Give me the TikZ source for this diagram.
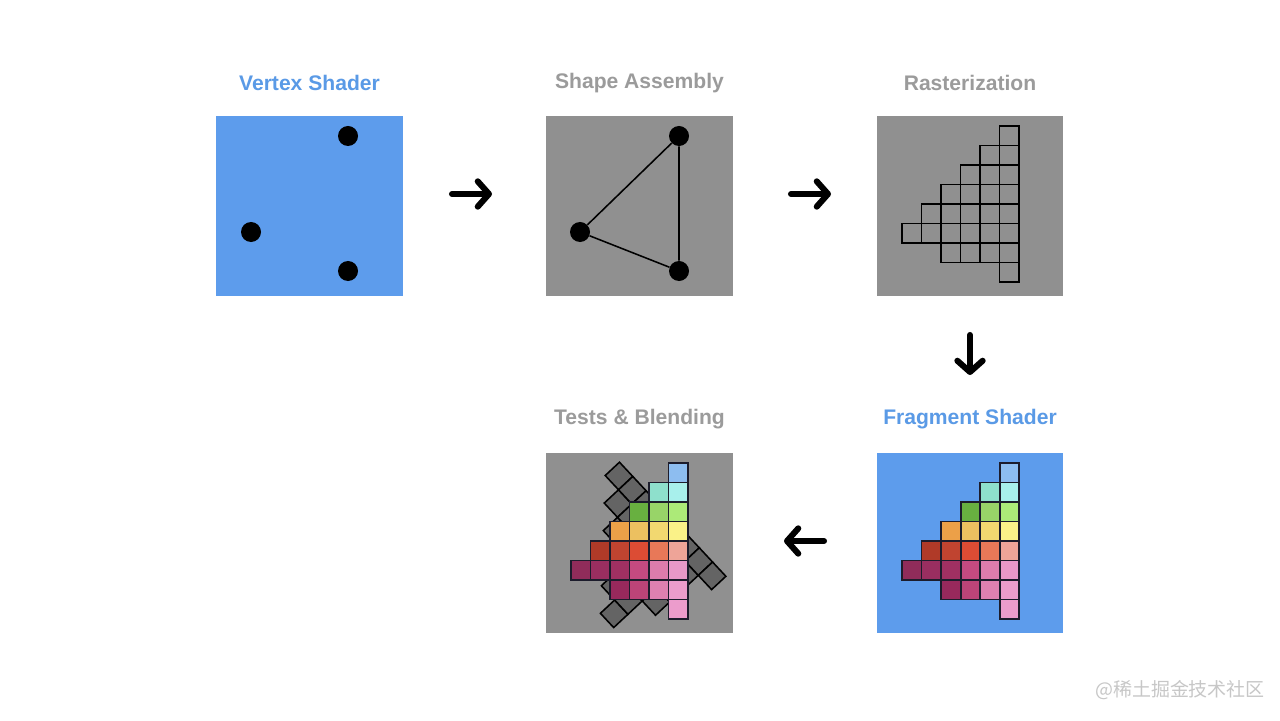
\documentclass[tikz,border=0pt]{standalone}
\usepackage{fontspec}
\setmainfont{Liberation Sans}
\newfontfamily\cjk{Noto Sans CJK SC}
\usetikzlibrary{arrows.meta,positioning}
\definecolor{pbl}{HTML}{5D9CEC}
\definecolor{pgr}{HTML}{909090}
\definecolor{tbl}{HTML}{5A9AE6}
\definecolor{tgr}{HTML}{9B9B9B}
\definecolor{dgr}{HTML}{646464}
\definecolor{edg}{HTML}{1C1C2C}
% fragment colours, k<row><col>
\definecolor{k05}{HTML}{8DBDF0}
\definecolor{k14}{HTML}{8EE0CC}\definecolor{k15}{HTML}{A8F0EC}
\definecolor{k23}{HTML}{68B040}\definecolor{k24}{HTML}{98D468}\definecolor{k25}{HTML}{ACEA78}
\definecolor{k32}{HTML}{ECA048}\definecolor{k33}{HTML}{ECC060}\definecolor{k34}{HTML}{F2D870}\definecolor{k35}{HTML}{FAF288}
\definecolor{k41}{HTML}{B03A28}\definecolor{k42}{HTML}{C04430}\definecolor{k43}{HTML}{DC4C34}\definecolor{k44}{HTML}{E87858}\definecolor{k45}{HTML}{EEA498}
\definecolor{k50}{HTML}{902C5A}\definecolor{k51}{HTML}{9A2E60}\definecolor{k52}{HTML}{A03062}\definecolor{k53}{HTML}{C44A80}\definecolor{k54}{HTML}{DC7CAC}\definecolor{k55}{HTML}{E898C8}
\definecolor{k62}{HTML}{98295C}\definecolor{k63}{HTML}{BC4478}\definecolor{k64}{HTML}{DE80B0}\definecolor{k65}{HTML}{EC9CCC}
\definecolor{k75}{HTML}{EC9CCC}
\tikzset{pan/.style={inner sep=0pt,minimum width=4.65cm,minimum height=4.5cm},
 bp/.style={pan,fill=pbl},gp/.style={pan,fill=pgr},
 ttl/.style={font=\fontsize{15pt}{18pt}\selectfont\bfseries},
 dot/.style={circle,fill=black,inner sep=0pt,minimum size=0.5cm},
 wire/.style={line width=1.1pt},
 gc/.style={draw=black,line width=1.1pt},
 fc/.style={draw=edg,line width=1.4pt,fill=k\r\c},
 dc/.style={draw=black,line width=1.1pt,fill=dgr},
 arr/.style={line width=4.3pt,line cap=round,-{Straight Barb[length=8pt,width=18pt,round]}},
 wm/.style={font=\cjk\fontsize{13.5pt}{16pt}\selectfont,text=black!22}}
\newcommand{\cells}[1]{\foreach \r/\f in {0/5,1/4,2/3,3/2,4/1,5/0,6/2,7/5}{%
 \foreach \c in {\f,...,5}{\draw[#1] ({\c*19.5},{-\r*19.5}) rectangle ++(19.5,-19.5);}}}

\begin{document}
\begin{tikzpicture}[x=0.025cm,y=0.025cm]
\useasboundingbox[fill=white] (0,0) rectangle (1280,-721);
% panels
\node[bp] (vs) at (309.5,-206) {};
\node[gp] (sa) at (639.5,-206) {};
\node[gp] (rs) at (970,-206) {};
\node[bp] (fs) at (970,-543) {};
\node[gp] (tb) at (639.5,-543) {};
\node[ttl,text=tbl] (tvs) at (309.5,-83) {Vertex Shader};
\node[ttl,text=tgr] (tsa) at (639.5,-83) {Shape Assembly};
\node[ttl,text=tgr] (trs) at (970,-83) {Rasterization};
\node[ttl,text=tbl] (tfs) at (970,-419) {Fragment Shader};
\node[ttl,text=tgr] (ttb) at (639.5,-419) {Tests \& Blending};
% vertices
\node[dot] (v1) at (348,-136) {};
\node[dot] (v2) at (251,-232) {};
\node[dot] (v3) at (348,-271) {};
\node[dot] (s1) at (679,-136) {};
\node[dot] (s2) at (580,-232) {};
\node[dot] (s3) at (679,-271) {};
\draw[wire] (s1)--(s2)--(s3)--(s1);
% fragments
\begin{scope}[shift={(902,-126)}]\cells{gc}\end{scope}
\begin{scope}[shift={(902,-463)}]\cells{fc}\end{scope}
\begin{scope}[shift={(533.9,-542)},rotate=43]\cells{dc}\end{scope}
\begin{scope}[shift={(571,-463)}]\cells{fc}\end{scope}
% arrows
\coordinate (a1s) at (452,-194);\coordinate (a1e) at (492,-194);
\coordinate (a2s) at (791,-194);\coordinate (a2e) at (831,-194);
\coordinate (a3s) at (970,-335);\coordinate (a3e) at (970,-375);
\coordinate (a4s) at (824,-541);\coordinate (a4e) at (784,-541);
\draw[arr] (a1s)--(a1e);\draw[arr] (a2s)--(a2e);
\draw[arr] (a3s)--(a3e);\draw[arr] (a4s)--(a4e);
\node[wm] (wmk) at (1180,-690) {@稀土掘金技术社区};
\end{tikzpicture}
\end{document}
